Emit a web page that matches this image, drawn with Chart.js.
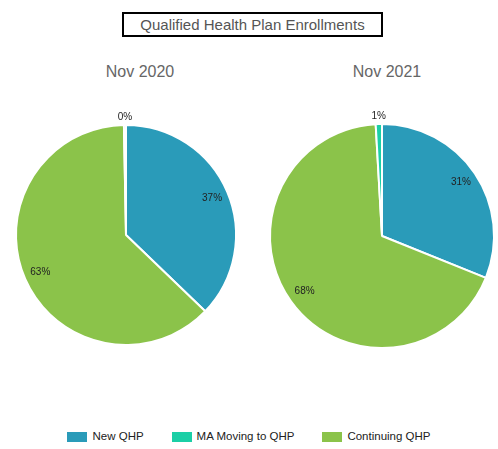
<!DOCTYPE html>
<html>
<head>
<meta charset="utf-8">
<script src="https://cdn.jsdelivr.net/npm/chart.js@4"></script>
<style>
  body { margin: 0; background: #fff; font-family: "Liberation Sans", Arial, sans-serif; }
  #page { position: relative; width: 498px; height: 449px; overflow: hidden; }
  .main-title {
    position: absolute; left: 122px; top: 12px; width: 257px; height: 21px;
    border: 2px solid #000; text-align: center; font-size: 15px; line-height: 21px; color: #555;
  }
  .sub-title { position: absolute; top: 62px; width: 120px; text-align: center; font-size: 16px; line-height: 20px; color: #666; }
  .pie { position: absolute; }
  #legend {
    position: absolute; left: 0; top: 430px; width: 498px; display: flex; justify-content: center;
    font-size: 11.5px; color: #222; line-height: 13px;
  }
  .item { display: flex; align-items: center; margin: 0 14px; }
  .swatch { width: 20px; height: 10px; margin-right: 5px; }
</style>
</head>
<body>
<div id="page">
  <div class="main-title">Qualified Health Plan Enrollments</div>
  <div class="sub-title" style="left:80px">Nov 2020</div>
  <div class="sub-title" style="left:327px">Nov 2021</div>
  <div class="pie" style="left:5px; top:100px; width:242px; height:270px"><canvas id="pie2020"></canvas></div>
  <div class="pie" style="left:258px; top:99px; width:240px; height:274px"><canvas id="pie2021"></canvas></div>
  <div id="legend"></div>
</div>
<script>
// legend order
const categories = ["New QHP", "MA Moving to QHP", "Continuing QHP"];
const colors = ["#2A9BB9", "#1BCFA6", "#8BC34A"];
// share of enrollments (%), same order as categories
const nov2020 = [37.2, 0.3, 62.5];
const nov2021 = [31.1, 0.9, 68.0];
// slices go clockwise from the top in this order
const sliceOrder = [0, 2, 1];

const pctLabels = {
  id: "pctLabels",
  afterDatasetsDraw(chart) {
    const ctx = chart.ctx;
    const meta = chart.getDatasetMeta(0);
    const values = chart.data.datasets[0].data;
    const total = values.reduce((a, b) => a + b, 0);
    ctx.save();
    ctx.font = '10px "Liberation Sans", Arial, sans-serif';
    ctx.fillStyle = "#222";
    ctx.textAlign = "center";
    ctx.textBaseline = "middle";
    meta.data.forEach((arc, i) => {
      const p = arc.getProps(["x", "y", "startAngle", "endAngle", "outerRadius"], true);
      const mid = (p.startAngle + p.endAngle) / 2;
      const r = (p.endAngle - p.startAngle) < 0.2 ? p.outerRadius + 8 : p.outerRadius * 0.85;
      const txt = Math.round(values[i] / total * 100) + "%";
      ctx.fillText(txt, p.x + Math.cos(mid) * r, p.y + Math.sin(mid) * r);
    });
    ctx.restore();
  }
};

function drawPie(id, values, padding) {
  new Chart(document.getElementById(id), {
    type: "pie",
    data: {
      labels: sliceOrder.map(i => categories[i]),
      datasets: [{
        data: sliceOrder.map(i => values[i]),
        backgroundColor: sliceOrder.map(i => colors[i]),
        borderColor: "#fff",
        borderWidth: 2
      }]
    },
    options: {
      responsive: true,
      maintainAspectRatio: false,
      animation: false,
      layout: { padding: padding },
      plugins: {
        legend: { display: false },
        tooltip: { enabled: false }
      }
    },
    plugins: [pctLabels]
  });
}

drawPie("pie2020", nov2020, { left: 10, right: 10, top: 24, bottom: 24 });
drawPie("pie2021", nov2021, { left: 11, right: 3, top: 24, bottom: 24 });

const legend = document.getElementById("legend");
categories.forEach((name, i) => {
  const item = document.createElement("div");
  item.className = "item";
  item.innerHTML = '<span class="swatch" style="background:' + colors[i] + '"></span>' + name;
  legend.appendChild(item);
});
</script>
</body>
</html>
